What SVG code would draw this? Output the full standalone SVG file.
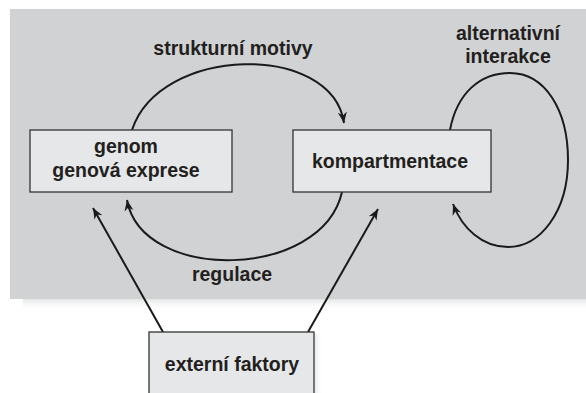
<svg xmlns="http://www.w3.org/2000/svg" width="586" height="393" viewBox="0 0 586 393">
  <defs>
    <linearGradient id="shadowV" x1="0" y1="0" x2="0" y2="1">
      <stop offset="0" stop-color="#e4e5e6"/>
      <stop offset="1" stop-color="#ffffff" stop-opacity="0"/>
    </linearGradient>
    <linearGradient id="shadowH" x1="0" y1="0" x2="1" y2="0">
      <stop offset="0" stop-color="#e8e9ea"/>
      <stop offset="1" stop-color="#ffffff" stop-opacity="0"/>
    </linearGradient>
    <marker id="arr" viewBox="-11 -5 12 10" refX="0" refY="0" markerWidth="12" markerHeight="10" markerUnits="userSpaceOnUse" orient="auto">
      <path d="M0,0 L-11,-4.5 L-7.5,0 L-11,4.5 z" fill="#1a1a1a"/>
    </marker>
    <style>
      .box { fill: #e6e7e8; stroke: #333333; stroke-width: 1.3; }
      .lbl { font-family: "Liberation Sans", Arial, Helvetica, sans-serif; font-weight: bold; font-size: 19.5px; fill: #231f20; text-anchor: middle; }
      .con { fill: none; stroke: #1a1a1a; stroke-width: 2; marker-end: url(#arr); }
    </style>
  </defs>

  <rect x="0" y="0" width="586" height="393" fill="#ffffff"/>
  <!-- background panel -->
  <rect x="23" y="299" width="563" height="12" fill="url(#shadowV)"/>
  <rect x="10" y="9" width="576" height="290" fill="#d1d2d4"/>

  <g id="labels">
    <text class="lbl" x="233" y="55">strukturní motivy</text>
    <text class="lbl" x="508" y="40">alternativní</text>
    <text class="lbl" x="508" y="63">interakce</text>
    <text class="lbl" x="232" y="281">regulace</text>
  </g>

  <g id="connectors">
    <path class="con" d="M132,130 C160,45 332,42 344,123"/>
    <path class="con" d="M342,192 C322,280 142,283 127,200"/>
    <path class="con" d="M450,130 C457,93 480,73 510,73 C545,73 568,110 568,160 C568,212 540,247 508,247 C482,247 462,228 453,204"/>
    <path class="con" d="M163,332 L93,208"/>
    <path class="con" d="M308,332 L378,209"/>
  </g>

  <g id="genom">
    <rect class="box" x="30" y="130" width="202" height="62"/>
    <text class="lbl" x="126" y="153">genom</text>
    <text class="lbl" x="126" y="177">genová exprese</text>
  </g>

  <g id="kompartmentace">
    <rect class="box" x="293" y="130" width="198" height="62"/>
    <text class="lbl" x="390" y="168">kompartmentace</text>
  </g>

  <g id="externi">
    <rect x="315" y="334" width="8" height="59" fill="url(#shadowH)"/>
    <rect class="box" x="149" y="332" width="165" height="70"/>
    <text class="lbl" x="232" y="371">externí faktory</text>
  </g>
</svg>
